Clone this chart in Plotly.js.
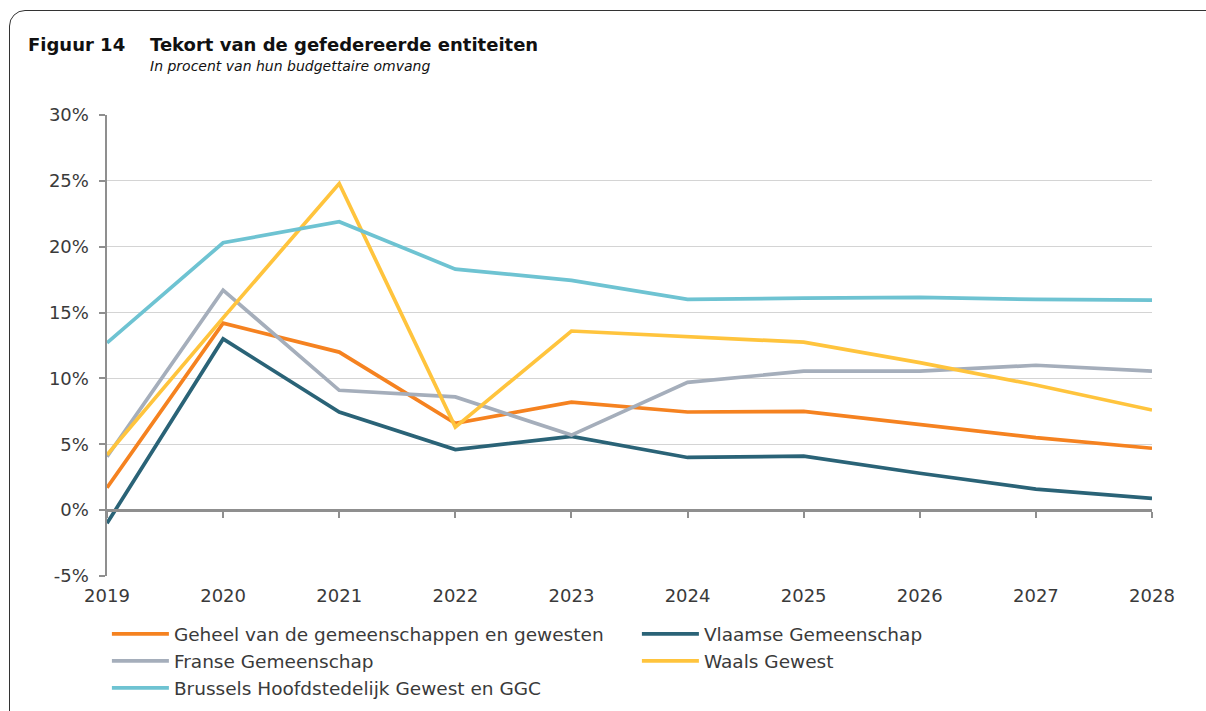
<!DOCTYPE html>
<html>
<head>
<meta charset="utf-8">
<script src="https://cdn.plot.ly/plotly-3.0.1.min.js"></script>
<style>
  html, body { margin: 0; padding: 0; background: #ffffff; }
  #wrap { position: relative; width: 1206px; height: 711px; overflow: hidden; }
  #chart { position: absolute; left: 0; top: 0; width: 1206px; height: 711px; }
  #frame { position: absolute; left: 9px; top: 10px; width: 1230px; height: 740px;
           border: 1.5px solid #333; border-radius: 16px; pointer-events: none; box-sizing: border-box; }
</style>
</head>
<body>
<div id="wrap">
  <div id="chart"></div>
  <div id="frame"></div>
</div>
<script>
const years = [2019, 2020, 2021, 2022, 2023, 2024, 2025, 2026, 2027, 2028];
const yTicks = [-5, 0, 5, 10, 15, 20, 25, 30];
const yTickLabels = ["-5%", "0%", "5%", "10%", "15%", "20%", "25%", "30%"];

const names = [
  "Geheel van de gemeenschappen en gewesten",
  "Vlaamse Gemeenschap",
  "Franse Gemeenschap",
  "Waals Gewest",
  "Brussels Hoofdstedelijk Gewest en GGC"
];
const geheel   = [1.7, 14.2, 12.0, 6.6, 8.2, 7.45, 7.5, 6.5, 5.5, 4.7];
const vlaamse  = [-1.0, 13.0, 7.45, 4.6, 5.6, 4.0, 4.1, 2.8, 1.6, 0.9];
const franse   = [4.05, 16.7, 9.1, 8.6, 5.7, 9.7, 10.55, 10.55, 11.0, 10.55];
const waals    = [4.2, 14.6, 24.8, 6.3, 13.6, 13.2, 12.75, 11.2, 9.5, 7.6];
const brussels = [12.7, 20.3, 21.9, 18.3, 17.45, 16.0, 16.1, 16.15, 16.0, 15.95];
const colors = ["#F58220", "#2A6377", "#A5AEBB", "#FFC43D", "#6EC3D2"];

const series = [geheel, vlaamse, franse, waals, brussels];
const font = "'DejaVu Sans', sans-serif";

const traces = series.map((s, i) => ({
  x: years, y: s, name: names[i], type: "scatter", mode: "lines",
  line: { color: colors[i], width: 3.7 },
  hoverinfo: "x+y+name"
}));
// helper trace to carry the zero-line x axis with tick marks
traces.push({
  x: years, y: geheel, xaxis: "x2", yaxis: "y", type: "scatter", mode: "lines",
  line: { color: "rgba(0,0,0,0)", width: 0 }, showlegend: false, hoverinfo: "skip"
});

const yMin = yTicks[0], yMax = yTicks[yTicks.length - 1];

const layout = {
  width: 1206, height: 711,
  margin: { l: 107, r: 54, t: 115, b: 135, autoexpand: false },
  paper_bgcolor: "rgba(0,0,0,0)",
  plot_bgcolor: "rgba(0,0,0,0)",
  showlegend: true,
  font: { family: font, color: "#3a3a3a", size: 18 },
  xaxis: {
    type: "linear", range: [years[0], years[years.length - 1]],
    tickvals: years, ticktext: years.map(String),
    showgrid: false, zeroline: false, showline: false,
    ticks: "outside", ticklen: 3, tickcolor: "rgba(0,0,0,0)",
    tickfont: { family: font, size: 18, color: "#3a3a3a" }
  },
  xaxis2: {
    type: "linear", range: [years[0], years[years.length - 1]],
    overlaying: "x", anchor: "free",
    position: (0 - yMin) / (yMax - yMin),
    tickvals: years, showticklabels: false,
    showgrid: false, zeroline: false,
    showline: true, linecolor: "#8f8f8f", linewidth: 2.5,
    ticks: "outside", ticklen: 6, tickwidth: 2, tickcolor: "#8f8f8f"
  },
  yaxis: {
    range: [yMin, yMax], tickvals: yTicks, ticktext: yTickLabels,
    showgrid: true, gridcolor: "#d4d4d4", gridwidth: 1.2,
    zeroline: false,
    showline: true, linecolor: "#8f8f8f", linewidth: 2.5,
    ticks: "outside", ticklen: 6, tickwidth: 2, tickcolor: "#8f8f8f",
    ticklabelstandoff: 6,
    tickfont: { family: font, size: 18, color: "#3a3a3a" }
  },
  legend: {
    orientation: "h", x: -0.0001, xanchor: "left", y: -0.0853, yanchor: "top",
    entrywidth: 458, entrywidthmode: "pixels",
    font: { family: font, size: 18.5, color: "#3a3a3a" },
    tracegroupgap: 0, itemwidth: 57,
    bgcolor: "rgba(0,0,0,0)"
  },
  annotations: [
    { text: "<b>Figuur 14</b>", xref: "paper", yref: "paper", x: -0.0775, y: 1.152,
      xanchor: "left", yanchor: "middle", showarrow: false,
      font: { family: font, size: 18, color: "#111" } },
    { text: "<b>Tekort van de gefedereerde entiteiten</b>", xref: "paper", yref: "paper", x: 0.039, y: 1.152,
      xanchor: "left", yanchor: "middle", showarrow: false,
      font: { family: font, size: 18, color: "#111" } },
    { text: "<i>In procent van hun budgettaire omvang</i>", xref: "paper", yref: "paper", x: 0.039, y: 1.106,
      xanchor: "left", yanchor: "middle", showarrow: false,
      font: { family: font, size: 14, color: "#111" } }
  ]
};

Plotly.newPlot("chart", traces, layout, { displayModeBar: false, staticPlot: true });
</script>
</body>
</html>
